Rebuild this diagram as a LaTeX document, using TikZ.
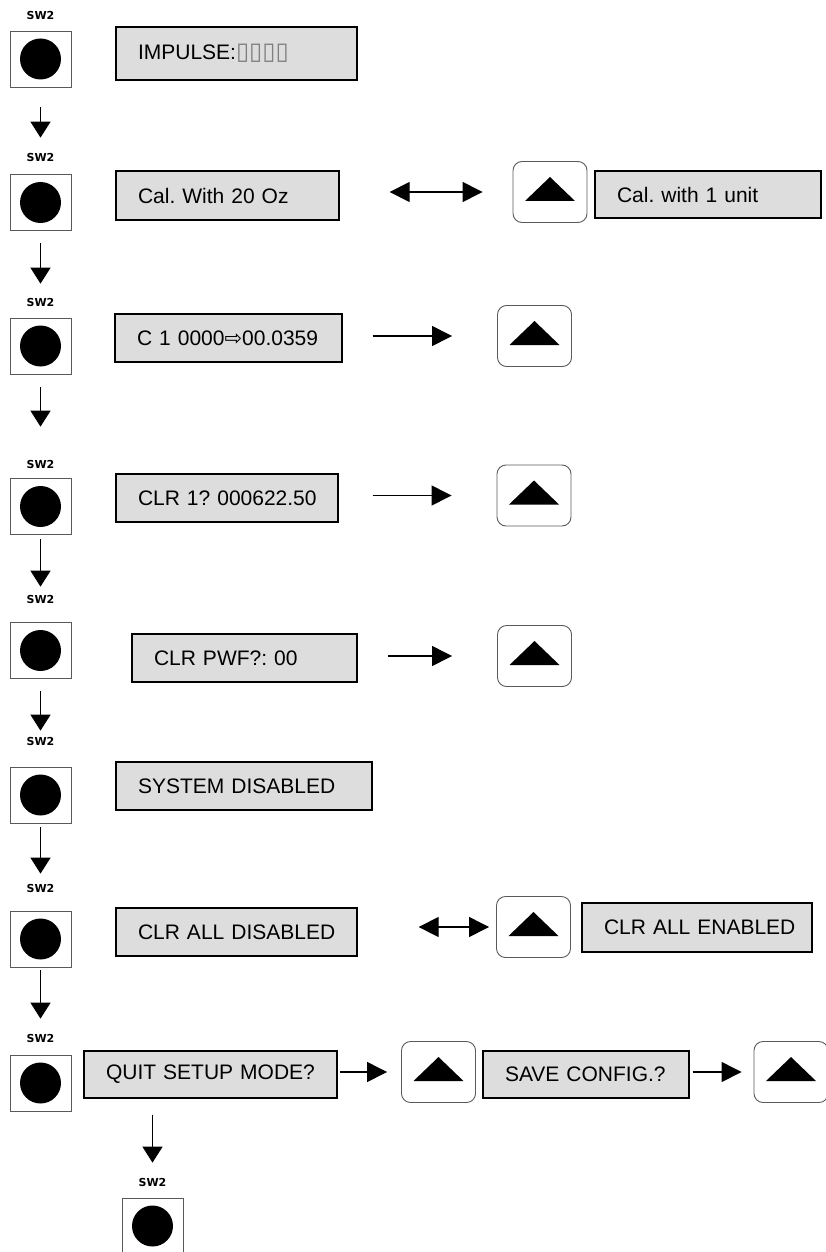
\documentclass[tikz,border=0pt]{standalone}
\usepackage{fontspec}
\usepackage{xcolor}
\usetikzlibrary{arrows.meta,positioning}
\newfontfamily\lcdfont{Liberation Sans}
\newfontfamily\symfont{DejaVu Sans}
\definecolor{lcdgray}{RGB}{221,221,221}
\definecolor{keygray}{RGB}{90,90,90}
\frenchspacing

\begin{document}
\begin{tikzpicture}[
  x=1pt, y=-1pt,
  swlabel/.style={font=\symfont\bfseries\fontsize{11}{11}\selectfont, inner sep=0pt},
  swkey/.style={draw=black!65, line width=0.9pt, minimum width=61pt, minimum height=56pt, inner sep=0pt,
    path picture={\fill (path picture bounding box.center) circle (20.5pt);}},
  lcd/.style={draw, fill=lcdgray, line width=1.3pt, minimum height=48pt, inner xsep=22pt, inner ysep=0pt, align=left,
    font=\lcdfont\fontsize{21}{25}\selectfont, execute at begin node=\hbox\bgroup, execute at end node=\egroup},
  upkey/.style={draw=keygray, line width=0.9pt, rounded corners=9pt, minimum width=74pt, minimum height=61pt, inner sep=0pt,
    path picture={\fill[sharp corners] ([yshift=15pt]path picture bounding box.center) -- ++(-25pt,-24pt) -- ++(50pt,0pt) -- cycle;}},
  down/.style={-{Triangle[length=16pt, width=20pt]}, line width=1.3pt},
  arrow/.style={-{Triangle[length=20pt, width=20pt]}, line width=1.3pt},
  twoway/.style={{Triangle[length=20pt, width=20pt]}-{Triangle[length=20pt, width=20pt]}, line width=1.3pt}
]
\useasboundingbox (0,0) rectangle (825,1252);

% SW2 keys down the left side
\node[swlabel] (lbl1) at (40.5,15) {SW2};
\node[swkey] (sw1) at (40.5,59) {};
\node[swlabel] (lbl2) at (40.5,157) {SW2};
\node[swkey] (sw2) at (40.5,202.5) {};
\node[swlabel] (lbl3) at (40.5,302) {SW2};
\node[swkey] (sw3) at (40.5,346) {};
\node[swlabel] (lbl4) at (40.5,464) {SW2};
\node[swkey] (sw4) at (40.5,506.5) {};
\node[swlabel] (lbl5) at (40.5,599) {SW2};
\node[swkey] (sw5) at (40.5,650.5) {};
\node[swlabel] (lbl6) at (40.5,741) {SW2};
\node[swkey] (sw6) at (40.5,795) {};
\node[swlabel] (lbl7) at (40.5,888) {SW2};
\node[swkey] (sw7) at (40.5,939) {};
\node[swlabel] (lbl8) at (40.5,1038) {SW2};
\node[swkey] (sw8) at (40.5,1083) {};
\node[swlabel] (lbl9) at (152.5,1182) {SW2};
\node[swkey] (sw9) at (152.5,1226) {};

% displays
\node[lcd, text width=197pt, minimum height=53pt] (impulse) at (236.5,53.5) {IMPULSE:{\symfont\fontsize{24}{24}\selectfont\color{gray}▯▯▯▯}};
\node[lcd, text width=179pt, minimum height=49pt] (calwith) at (227.5,195.5) {Cal. With 20 Oz};
\node[upkey] (upcal) at (550,192) {};
\node[lcd, text width=182pt, minimum height=47pt] (calunit) at (708,194.5) {Cal. with 1 unit};
\node[lcd, text width=183pt] (cone) at (228.5,338) {C 1 0000{\symfont ⇨}00.0359};
\node[upkey] (upcone) at (534.5,336) {};
\node[lcd, text width=178pt] (clrone) at (227,498) {CLR 1? 000622.50};
\node[upkey] (upclr) at (534,495.5) {};
\node[lcd, text width=181pt] (clrpwf) at (244.5,658) {CLR PWF?: 00};
\node[upkey] (uppwf) at (534.5,656) {};
\node[lcd, text width=212pt] (sysdis) at (244,786) {SYSTEM DISABLED};
\node[lcd, text width=197pt] (clrdis) at (236.5,932) {CLR ALL DISABLED};
\node[upkey] (upclrall) at (533.5,927) {};
\node[lcd, text width=186pt, minimum height=49pt] (clren) at (697,927.5) {CLR ALL ENABLED};
\node[lcd, text width=209pt, minimum height=47pt] (quit) at (210.5,1074.5) {QUIT SETUP MODE?};
\node[upkey] (upquit) at (438.5,1072) {};
\node[lcd, text width=162pt, minimum height=47pt] (save) at (586,1074.5) {SAVE CONFIG.?};
\node[upkey] (upsave) at (791,1072) {};

% SW2 steps
\draw[down, shorten <=20pt, shorten >=15pt] (sw1) -- (lbl2);
\draw[down, shorten <=12pt, shorten >=14pt] (sw2) -- (lbl3);
\draw[down, shorten <=13pt, shorten >=33pt] (sw3) -- (lbl4);
\draw[down, shorten <=4pt, shorten >=8pt] (sw4) -- (lbl5);
\draw[down, shorten <=12pt, shorten >=6pt] (sw5) -- (lbl6);
\draw[down, shorten <=4pt, shorten >=10pt] (sw6) -- (lbl7);
\draw[down, shorten <=3pt, shorten >=15pt] (sw7) -- (lbl8);
\draw[down, shorten <=16pt, shorten >=15pt] (quit.south -| lbl9) -- (lbl9);

% up key actions
\draw[twoway, shorten <=50pt, shorten >=30pt] (calwith.east |- upcal) -- (upcal.west);
\draw[arrow, shorten <=30pt, shorten >=45pt] (cone.east |- upcone) -- (upcone.west);
\draw[arrow, shorten <=34pt, shorten >=45pt] (clrone.east |- upclr) -- (upclr.west);
\draw[arrow, shorten <=30pt, shorten >=45pt] (clrpwf.east |- uppwf) -- (uppwf.west);
\draw[twoway, shorten <=61pt, shorten >=7pt] (clrdis.east |- upclrall) -- (upclrall.west);
\draw[arrow, shorten <=2pt, shorten >=14pt] (quit.east |- upquit) -- (upquit.west);
\draw[arrow, shorten <=3pt, shorten >=12pt] (save.east |- upsave) -- (upsave.west);
\end{tikzpicture}
\end{document}
